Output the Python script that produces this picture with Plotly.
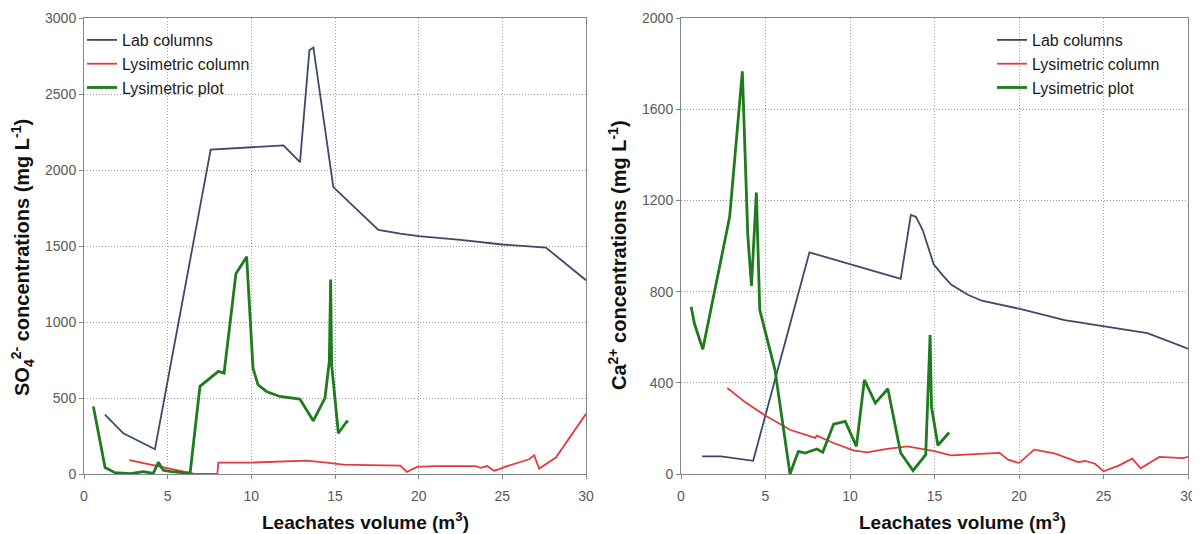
import plotly.graph_objects as go

# ---------------- Data: SO4 (left panel) ----------------
so4_lab_x = [1.25, 2.35, 4.24, 7.57, 11.92, 12.91, 13.47, 13.71, 14.9, 17.59, 18.9, 20.0, 22.5, 25.0, 27.6, 30.0]
so4_lab_y = [390, 268, 163, 2134, 2162, 2052, 2788, 2806, 1887, 1606, 1582, 1565, 1540, 1510, 1490, 1275]

so4_col_x = [2.71, 4.5, 6.34, 6.6, 7.97, 8.03, 10.0, 12.0, 13.3, 14.5, 15.5, 17.0, 18.9, 19.3, 19.9, 21.0, 22.0, 23.4, 23.7, 24.1, 24.5, 24.8, 25.1, 25.6, 26.6, 26.9, 27.2, 28.2, 30.0]
so4_col_y = [92, 50, 5, 0, 0, 75, 75, 82, 88, 75, 62, 58, 55, 13, 47, 52, 50, 52, 40, 52, 22, 30, 45, 62, 97, 124, 36, 108, 396]

so4_plot_x = [0.56, 1.26, 1.85, 2.75, 3.55, 4.14, 4.44, 4.74, 5.2, 6.34, 6.93, 8.03, 8.37, 9.08, 9.72, 10.1, 10.4, 10.9, 11.7, 12.9, 13.7, 14.4, 14.66, 14.74, 14.8, 15.2, 15.7, 15.8]
so4_plot_y = [444, 42, 9, 2, 15, 4, 77, 24, 15, 5, 577, 675, 664, 1318, 1430, 697, 587, 543, 510, 493, 350, 499, 741, 1280, 719, 268, 345, 345]

# ---------------- Data: Ca (right panel) ----------------
ca_lab_x = [1.25, 2.38, 4.27, 7.6, 13.0, 13.6, 13.9, 14.3, 14.95, 15.5, 16.0, 17.0, 17.8, 20.0, 22.7, 25.0, 27.6, 30.0]
ca_lab_y = [77, 77, 58, 972, 856, 1136, 1128, 1070, 920, 870, 830, 785, 760, 725, 675, 648, 618, 550]

ca_col_x = [2.74, 3.87, 5.06, 6.45, 7.94, 8.04, 9.03, 10.2, 11.0, 12.2, 13.4, 15.0, 15.98, 18.85, 19.35, 20.0, 20.9, 22.1, 23.5, 23.9, 24.5, 25.0, 25.9, 26.7, 27.2, 28.3, 29.7, 30.0]
ca_col_y = [377, 311, 253, 194, 158, 168, 136, 104, 95, 110, 121, 100, 82, 93, 63, 48, 107, 90, 52, 57, 45, 12, 37, 67, 25, 75, 70, 75]

ca_plot_x = [0.6, 0.79, 1.29, 2.88, 3.63, 3.95, 4.17, 4.46, 4.66, 5.56, 6.45, 6.94, 7.34, 8.04, 8.39, 9.03, 9.72, 10.38, 10.85, 11.5, 12.24, 13.0, 13.73, 14.48, 14.74, 14.82, 15.2, 15.87]
ca_plot_y = [734, 661, 547, 1128, 1766, 1050, 825, 1234, 720, 457, 0, 99, 92, 110, 95, 219, 231, 121, 413, 311, 374, 92, 15, 85, 610, 296, 126, 182]

series_names = ["Lab columns", "Lysimetric column", "Lysimetric plot"]
colors = ["#3C4A68", "#E53A3F", "#1E7B1E"]
widths = [1.8, 1.8, 2.8]

fig = go.Figure()

left = [(so4_lab_x, so4_lab_y), (so4_col_x, so4_col_y), (so4_plot_x, so4_plot_y)]
right = [(ca_lab_x, ca_lab_y), (ca_col_x, ca_col_y), (ca_plot_x, ca_plot_y)]

for i, (xs, ys) in enumerate(left):
    fig.add_trace(go.Scatter(x=xs, y=ys, mode="lines", name=series_names[i],
                             line=dict(color=colors[i], width=widths[i]),
                             xaxis="x", yaxis="y", legend="legend"))
for i, (xs, ys) in enumerate(right):
    fig.add_trace(go.Scatter(x=xs, y=ys, mode="lines", name=series_names[i],
                             line=dict(color=colors[i], width=widths[i]),
                             xaxis="x2", yaxis="y2", legend="legend2"))

# The page body has an 8px margin; work in window pixels and convert.
OFF = 8
W, H = 1200 - OFF, 534 - OFF
PLOT_TOP, PLOT_BOTTOM = 18, 474          # window pixels
top = PLOT_TOP - OFF
bottom = H - (PLOT_BOTTOM - OFF)
plot_h = H - top - bottom

def px(x):
    return (x - OFF) / W

def py(y):
    return ((PLOT_BOTTOM - OFF) - (y - OFF)) / plot_h

def axis_common(is_x):
    d = dict(showline=True, linecolor="#868686", linewidth=1, mirror=True,
             showgrid=True, gridcolor="#9E9E9E", griddash="1px,2px", gridwidth=1,
             zeroline=False, ticks="outside", ticklen=4, tickcolor="#868686",
             tickfont=dict(family="Liberation Sans, Arial", size=14, color="#595959"),
             automargin=False, fixedrange=True)
    if is_x:
        d["ticklabelstandoff"] = 5
    return d

legend_font = dict(family="Liberation Sans, Arial", size=16, color="#1A1A1A")

fig.update_layout(
    width=W, height=H,
    margin=dict(l=0, r=0, t=top, b=bottom),
    paper_bgcolor="white", plot_bgcolor="white",
    showlegend=True,
    xaxis=dict(domain=[px(84), px(586)], range=[0, 30], dtick=5, anchor="y", **axis_common(True)),
    yaxis=dict(domain=[0, 1], range=[0, 3000], dtick=500, anchor="x", **axis_common(False)),
    xaxis2=dict(domain=[px(681), px(1188)], range=[0, 30], dtick=5, anchor="y2", **axis_common(True)),
    yaxis2=dict(domain=[0, 1], range=[0, 2000], dtick=400, anchor="x2", **axis_common(False)),
    legend=dict(x=px(82), y=py(23), xanchor="left", yanchor="top",
                bgcolor="rgba(255,255,255,0)", itemwidth=30, tracegroupgap=0, font=legend_font),
    legend2=dict(x=px(992), y=py(23), xanchor="left", yanchor="top",
                 bgcolor="rgba(255,255,255,0)", itemwidth=30, tracegroupgap=0, font=legend_font),
)

ytitle_font = dict(family="Liberation Sans, Arial", size=20, color="#111111")
xtitle_font = dict(family="Liberation Sans, Arial", size=19, color="#111111")

fig.add_annotation(text="<b>SO<sub>4</sub><sup>2-</sup> concentrations (mg L<sup>-1</sup>)</b>",
                   xref="paper", yref="paper", x=px(22), y=py(258), textangle=-90,
                   showarrow=False, xanchor="center", yanchor="middle", font=ytitle_font)
fig.add_annotation(text="<b>Ca<sup>2+</sup> concentrations (mg L<sup>-1</sup>)</b>",
                   xref="paper", yref="paper", x=px(617), y=py(255), textangle=-90,
                   showarrow=False, xanchor="center", yanchor="middle", font=ytitle_font)
fig.add_annotation(text="<b>Leachates volume (m<sup>3</sup>)</b>",
                   xref="paper", yref="paper", x=px(260), y=py(521),
                   showarrow=False, xanchor="left", yanchor="middle", font=xtitle_font)
fig.add_annotation(text="<b>Leachates volume (m<sup>3</sup>)</b>",
                   xref="paper", yref="paper", x=px(857), y=py(521),
                   showarrow=False, xanchor="left", yanchor="middle", font=xtitle_font)

fig.write_html("out.html")
